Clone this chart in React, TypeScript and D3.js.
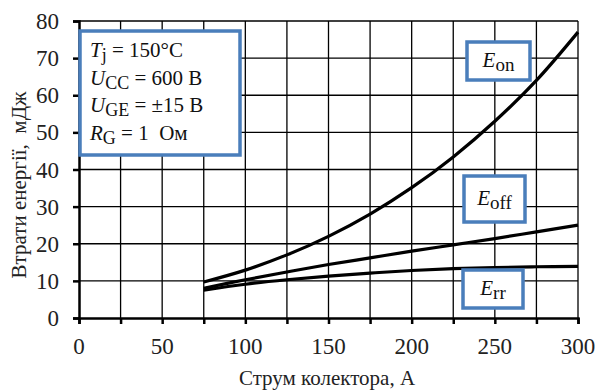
import React, { useRef, useEffect } from 'react'
import * as d3 from 'd3'

// collector current, A
const current = [75, 100, 125, 150, 175, 200, 225, 250, 275, 300]
// energy losses, mJ
const eOn = [9.7, 12.9, 17.0, 22.0, 28.0, 35.1, 43.4, 53.0, 64.0, 77]
const eOff = [8, 10.3, 12.4, 14.4, 16.2, 18, 19.7, 21.4, 23.2, 25]
const eRr = [7.5, 9.1, 10.3, 11.3, 12.1, 12.8, 13.3, 13.6, 13.8, 13.9]

const xTicks = [0, 50, 100, 150, 200, 250, 300]
const xGrid = [25, 50, 75, 100, 125, 150, 175, 200, 225, 250, 275, 300]
const yTicks = [0, 10, 20, 30, 40, 50, 60, 70, 80]

const serif = 'Liberation Serif'
const boxBlue = '#4a7ebb'

function App() {
  const svgRef = useRef<SVGSVGElement>(null)

  useEffect(() => {
    const width = 598
    const height = 390
    const margin = { top: 21, right: 20, bottom: 72, left: 79 }

    const svg = d3.select(svgRef.current)
    svg.selectAll('*').remove()
    svg.attr('width', width).attr('height', height)

    const x = d3.scaleLinear().domain([0, 300]).range([margin.left, width - margin.right])
    const y = d3.scaleLinear().domain([0, 80]).range([height - margin.bottom, margin.top])

    svg.append('rect').attr('width', width).attr('height', height).attr('fill', '#fff')

    // grid
    svg.append('g')
      .selectAll('line')
      .data(xGrid)
      .join('line')
      .attr('x1', d => x(d)).attr('x2', d => x(d))
      .attr('y1', y(0)).attr('y2', y(80))
      .attr('stroke', '#000').attr('stroke-width', 1.3)
    svg.append('g')
      .selectAll('line')
      .data(yTicks.slice(1))
      .join('line')
      .attr('x1', x(0)).attr('x2', x(300))
      .attr('y1', d => y(d)).attr('y2', d => y(d))
      .attr('stroke', '#000').attr('stroke-width', 1.3)

    // axes
    const xAxis = svg.append('g')
      .attr('transform', `translate(0, ${y(0)})`)
      .call(d3.axisBottom(x).tickValues(xGrid.concat([0])).tickSize(6).tickFormat(() => ''))
    xAxis.select('.domain').attr('stroke-width', 2.5)
    xAxis.selectAll('.tick line').attr('stroke-width', 2.5)

    const yAxis = svg.append('g')
      .attr('transform', `translate(${x(0)}, 0)`)
      .call(d3.axisLeft(y).tickValues(yTicks).tickSize(6).tickFormat(() => ''))
    yAxis.select('.domain').attr('stroke-width', 2.5)
    yAxis.selectAll('.tick line').attr('stroke-width', 2.5)

    // tick labels
    svg.append('g')
      .selectAll('text')
      .data(xTicks)
      .join('text')
      .attr('x', d => x(d)).attr('y', y(0) + 36)
      .attr('text-anchor', 'middle')
      .style('font-family', serif).style('font-size', '23px').attr('fill', '#222')
      .text(d => d)
    svg.append('g')
      .selectAll('text')
      .data(yTicks)
      .join('text')
      .attr('x', x(0) - 20).attr('y', d => y(d) + 8)
      .attr('text-anchor', 'end')
      .style('font-family', serif).style('font-size', '23px').attr('fill', '#222')
      .text(d => d)

    // axis titles
    svg.append('text')
      .attr('x', 327).attr('y', 385)
      .attr('text-anchor', 'middle')
      .style('font-family', serif).style('font-size', '21px').attr('fill', '#222')
      .text('Струм колектора, А')
    svg.append('text')
      .attr('transform', `translate(26, 185) rotate(-90)`)
      .attr('text-anchor', 'middle')
      .style('font-family', serif).style('font-size', '21px').attr('fill', '#222')
      .style('white-space', 'pre')
      .text('Втрати енергії,  мДж')

    // curves
    const line = d3.line<number>()
      .x((d, i) => x(current[i]))
      .y(d => y(d))
      .curve(d3.curveCatmullRom)
    const series = [eOn, eOff, eRr]
    svg.append('g')
      .selectAll('path')
      .data(series)
      .join('path')
      .attr('d', d => line(d))
      .attr('fill', 'none')
      .attr('stroke', '#000')
      .attr('stroke-width', 3.2)

    // boxes
    function box(x0: number, y0: number, w: number, h: number) {
      svg.append('rect')
        .attr('x', x0).attr('y', y0).attr('width', w).attr('height', h)
        .attr('fill', '#fff').attr('stroke', boxBlue).attr('stroke-width', 3.5)
    }

    box(80, 31, 160, 124)
    const info = [
      { main: 'T', sub: 'j', rest: ' = 150°C' },
      { main: 'U', sub: 'CC', rest: ' = 600 В' },
      { main: 'U', sub: 'GE', rest: ' = ±15 В' },
      { main: 'R', sub: 'G', rest: ' = 1  Ом' },
    ]
    info.forEach((r, i) => {
      const t = svg.append('text')
        .attr('x', 90).attr('y', 57 + i * 27.5)
        .style('font-family', serif).style('font-size', '21px').attr('fill', '#111')
        .style('white-space', 'pre')
      t.append('tspan').style('font-style', 'italic').text(r.main)
      t.append('tspan').attr('dy', 4).style('font-size', '18px').text(r.sub)
      t.append('tspan').attr('dy', -4).text(r.rest)
    })

    const labels = [
      { main: 'E', sub: 'on', bx: 467, by: 42, bw: 63, bh: 38 },
      { main: 'E', sub: 'off', bx: 464, by: 176, bw: 61, bh: 46 },
      { main: 'E', sub: 'rr', bx: 463, by: 270, bw: 60, bh: 38 },
    ]
    labels.forEach(l => {
      box(l.bx, l.by, l.bw, l.bh)
      const t = svg.append('text')
        .attr('x', l.bx + l.bw / 2).attr('y', l.by + l.bh / 2 + 6)
        .attr('text-anchor', 'middle')
        .style('font-family', serif).style('font-size', '21px').attr('fill', '#111')
      t.append('tspan').style('font-style', 'italic').text(l.main)
      t.append('tspan').attr('dy', 4).style('font-size', '19px').text(l.sub)
    })
  }, [])

  return (
    <div style={{ position: 'absolute', left: 0, top: 0 }}>
      <svg ref={svgRef}></svg>
    </div>
  )
}

export default App
